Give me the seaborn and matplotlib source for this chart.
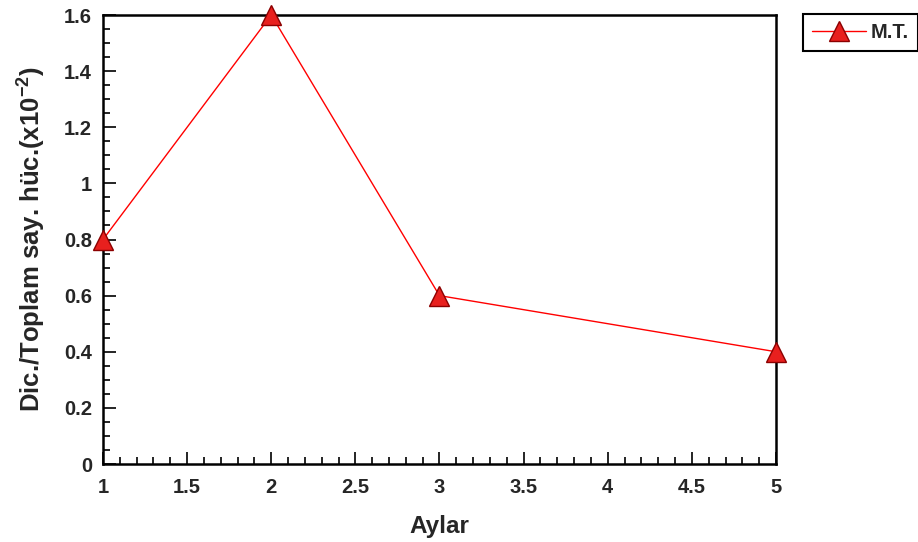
import matplotlib
matplotlib.use("Agg")
import matplotlib.pyplot as plt
from matplotlib.ticker import MultipleLocator
import seaborn as sns
import pandas as pd

# Data
months = [1, 2, 3, 5]
values = [0.8, 1.6, 0.6, 0.4]
series_name = "M.T."

df = pd.DataFrame({"Aylar": months, "val": values})

sns.set_style("ticks")
plt.rcParams["font.family"] = ["Liberation Sans", "DejaVu Sans"]
plt.rcParams["font.weight"] = "bold"
plt.rcParams["mathtext.fontset"] = "custom"
plt.rcParams["mathtext.bf"] = "Liberation Sans:bold"
plt.rcParams["mathtext.rm"] = "Liberation Sans:bold"

fig = plt.figure(figsize=(9.18, 5.42), dpi=100)
ax = fig.add_axes([0.1122, 0.1439, 0.8453 - 0.1122, 0.9723 - 0.1439])

sns.lineplot(data=df, x="Aylar", y="val", ax=ax, color="#ff0000", linewidth=1.0,
             marker="^", markersize=15, markerfacecolor="#e8201e",
             markeredgecolor="#8b0000", markeredgewidth=1.0,
             label=series_name, clip_on=False, zorder=5)

ax.set_xlim(1, 5)
ax.set_ylim(0, 1.6)
ax.xaxis.set_major_locator(MultipleLocator(0.5))
ax.xaxis.set_minor_locator(MultipleLocator(0.1))
ax.yaxis.set_major_locator(MultipleLocator(0.2))
ax.yaxis.set_minor_locator(MultipleLocator(0.05))
ax.yaxis.set_major_formatter(plt.FuncFormatter(lambda v, p: f"{v:g}"))
ax.xaxis.set_major_formatter(plt.FuncFormatter(lambda v, p: f"{v:g}"))

ax.tick_params(which="both", direction="in", top=False, right=False, width=1.2,
               color="black")
ax.tick_params(which="major", length=9, labelsize=14.5, pad=8)
ax.tick_params(axis="x", which="major", pad=10)
ax.tick_params(which="minor", length=5)
for lab in ax.get_xticklabels() + ax.get_yticklabels():
    lab.set_fontweight("bold")

for s in ax.spines.values():
    s.set_linewidth(1.8)
    s.set_color("black")

ax.set_xlabel("Aylar", fontsize=17.5, fontweight="bold", labelpad=13)
ax.set_ylabel(r"Dic./Toplam say. hüc.(x10$^{\mathbf{-2}}$)", fontsize=18.5,
              fontweight="bold", labelpad=12)

handles, labels = ax.get_legend_handles_labels()
ax.get_legend().remove()
leg = fig.legend(handles, labels, loc="upper left",
                 bbox_to_anchor=(803 / 918, 1 - 14 / 542), borderaxespad=0,
                 fancybox=False, edgecolor="black", framealpha=1,
                 prop={"weight": "bold", "size": 14.5}, handlelength=2.7,
                 handletextpad=0.2, borderpad=0.45)
leg.get_frame().set_linewidth(1.5)

fig.savefig("out.png", dpi=100)
